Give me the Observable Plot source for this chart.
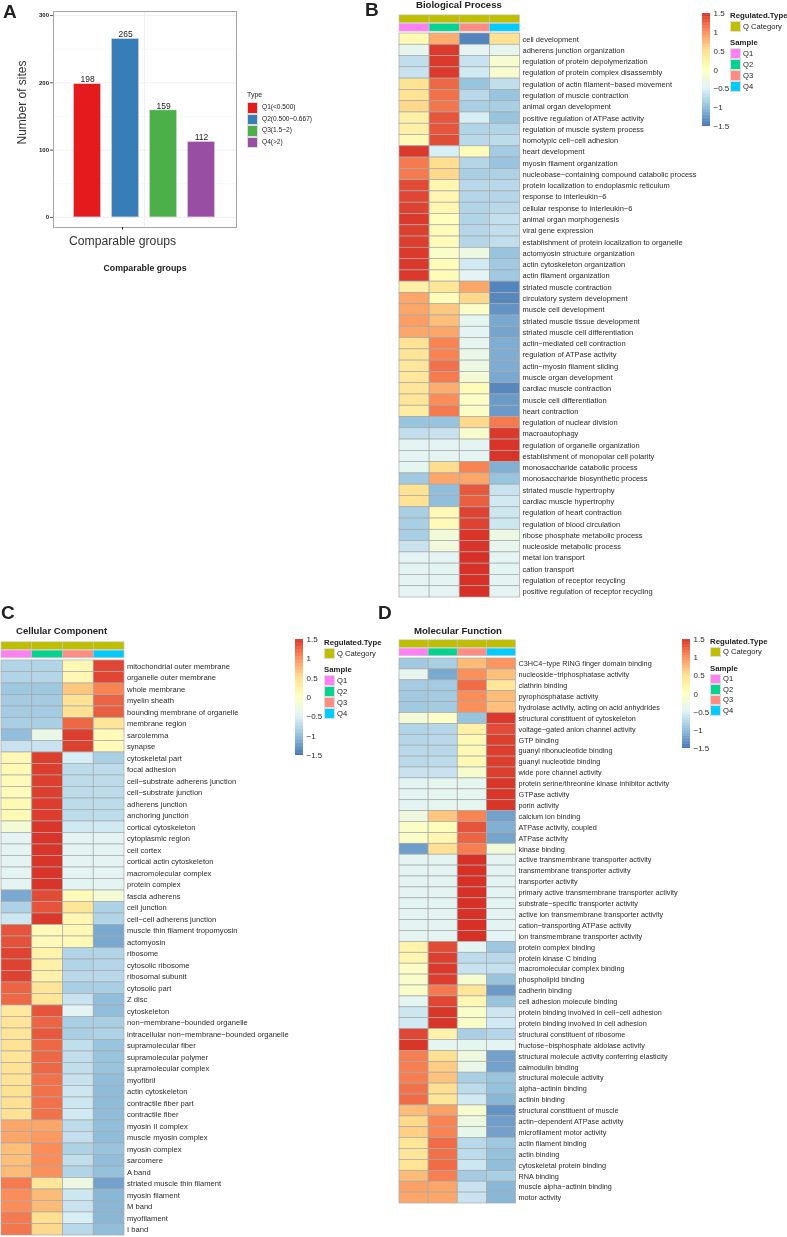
<!DOCTYPE html>
<html>
<head>
<meta charset="utf-8">
<script src="https://cdn.jsdelivr.net/npm/d3@7"></script>
<script src="https://cdn.jsdelivr.net/npm/@observablehq/plot@0.6"></script>
<style>
html,body{margin:0;padding:0;background:#fff}
#page{position:relative;width:787px;height:1237px;overflow:hidden;font-family:"Liberation Sans",Arial,sans-serif;color:#222;filter:blur(0.3px)}
#page svg{position:absolute;background:transparent;font-family:"Liberation Sans",Arial,sans-serif;overflow:visible}
.t{position:absolute;white-space:nowrap;line-height:1}
.s{position:absolute}
</style>
</head>
<body>
<div id="page"></div>
<script>
// ---------- Panel A data ----------
const siteTypes = ["Q1(<0.500)", "Q2(0.500~0.667)", "Q3(1.5~2)", "Q4(>2)"];
const siteCounts = [198, 265, 159, 112];
const siteColors = ["#e41a1c", "#377eb8", "#4daf4a", "#984ea3"];

// ---------- Heatmap shared ----------
const samples = ["Q1", "Q2", "Q3", "Q4"];
const sampleColors = ["#ff80f5", "#00d48f", "#ff8c82", "#00ccff"];
const categoryColor = "#bfbf00";
const colorStops = [-1.5, -1, -0.5, 0, 0.5, 1, 1.5];
const colorRange = ["#4575b4", "#91bfdb", "#e0f3f8", "#ffffbf", "#fee090", "#fc8d59", "#d73027"];

// ---------- Panel B: Biological Process ----------
const bpTerms = ["cell development","adherens junction organization","regulation of protein depolymerization","regulation of protein complex disassembly","regulation of actin filament−based movement","regulation of muscle contraction","animal organ development","positive regulation of ATPase activity","regulation of muscle system process","homotypic cell−cell adhesion","heart development","myosin filament organization","nucleobase−containing compound catabolic process","protein localization to endoplasmic reticulum","response to interleukin−6","cellular response to interleukin−6","animal organ morphogenesis","viral gene expression","establishment of protein localization to organelle","actomyosin structure organization","actin cytoskeleton organization","actin filament organization","striated muscle contraction","circulatory system development","muscle cell development","striated muscle tissue development","striated muscle cell differentiation","actin−mediated cell contraction","regulation of ATPase activity","actin−myosin filament sliding","muscle organ development","cardiac muscle contraction","muscle cell differentiation","heart contraction","regulation of nuclear division","macroautophagy","regulation of organelle organization","establishment of monopolar cell polarity","monosaccharide catabolic process","monosaccharide biosynthetic process","striated muscle hypertrophy","cardiac muscle hypertrophy","regulation of heart contraction","regulation of blood circulation","ribose phosphate metabolic process","nucleoside metabolic process","metal ion transport","cation transport","regulation of receptor recycling","positive regulation of receptor recycling"];
const bpValues = [
[.1,.8,-1.4,.45],[-.4,1.45,-.45,-.4],[-.7,1.45,-.65,-.15],[-.65,1.45,-.6,-.15],[.45,1.2,-.95,-.7],[.45,1.15,-.75,-.95],[.55,1.12,-.85,-.85],[.25,1.3,-.55,-.95],[.25,1.3,-.8,-.8],[.1,1.35,-.75,-.72],
[1.45,-.55,.05,-.88],[1.1,.5,-.78,-.95],[1.1,.55,-.85,-.82],[1.35,.15,-.75,-.75],[1.38,.15,-.78,-.78],[1.4,.15,-.8,-.75],[1.45,.02,-.8,-.68],[1.42,.05,-.78,-.7],[1.42,.08,-.78,-.7],[1.45,-.1,-.3,-.95],
[1.45,.07,-.6,-.9],[1.45,.07,-.45,-.9],[.25,.4,.85,-1.4],[.85,.05,.55,-1.38],[.85,.65,-.08,-1.3],[.9,.7,-.42,-1.15],[.85,.85,-.45,-1.18],[.45,1.05,-.4,-1.12],[.42,1.05,-.35,-1.12],[.38,1.15,-.3,-1.12],
[.38,1.1,-.2,-1.15],[.42,.8,.05,-1.38],[.42,1,-.05,-1.25],[.3,1.1,-.08,-1.25],[-.95,-.95,.55,1.1],[-.7,-.65,-.12,1.45],[-.45,-.45,-.45,1.48],[-.45,-.45,-.45,1.48],[-.42,.52,1.05,-1.1],[-.9,.85,.85,-.95],
[.45,-1,1.28,-.65],[.45,-1,1.25,-.6],[-.85,.1,1.4,-.62],[-.85,.08,1.4,-.62],[-.85,-.22,1.48,-.3],[-.65,-.25,1.48,-.4],[-.45,-.45,1.5,-.45],[-.45,-.45,1.5,-.45],[-.45,-.45,1.5,-.45],[-.45,-.45,1.5,-.45]];

// ---------- Panel C: Cellular Component ----------
const ccTerms = ["mitochondrial outer membrane","organelle outer membrane","whole membrane","myelin sheath","bounding membrane of organelle","membrane region","sarcolemma","synapse","cytoskeletal part","focal adhesion","cell−substrate adherens junction","cell−substrate junction","adherens junction","anchoring junction","cortical cytoskeleton","cytoplasmic region","cell cortex","cortical actin cytoskeleton","macromolecular complex","protein complex","fascia adherens","cell junction","cell−cell adherens junction","muscle thin filament tropomyosin","actomyosin","ribosome","cytosolic ribosome","ribosomal subunit","cytosolic part","Z disc","cytoskeleton","non−membrane−bounded organelle","intracellular non−membrane−bounded organelle","supramolecular fiber","supramolecular polymer","supramolecular complex","myofibril","actin cytoskeleton","contractile fiber part","contractile fiber","myosin II complex","muscle myosin complex","myosin complex","sarcomere","A band","striated muscle thin filament","myosin filament","M band","myofilament","I band"];
const ccValues = [
[-.8,-.8,.12,1.38],[-.8,-.78,.12,1.38],[-.92,-.92,.65,1.05],[-.88,-.88,.45,1.22],[-.88,-.88,.48,1.25],[-.85,-.85,1.2,.42],[-1,-.35,1.42,.08],[-.65,-.65,1.4,.08],[.12,1.42,-.55,-.85],[.1,1.42,-.72,-.72],
[.08,1.42,-.72,-.72],[.07,1.42,-.72,-.72],[.1,1.43,-.72,-.72],[.1,1.43,-.72,-.72],[-.2,1.47,-.6,-.6],[-.45,1.48,-.45,-.45],[-.45,1.48,-.45,-.45],[-.45,1.48,-.45,-.45],[-.45,1.48,-.45,-.45],[-.45,1.48,-.45,-.45],
[-1.15,1.35,.08,-.2],[-.82,1.3,.4,-.82],[-.62,1.45,.15,-.8],[1.3,.08,.12,-1.15],[1.32,.08,.1,-1.15],[1.4,.2,-.8,-.8],[1.4,.22,-.8,-.78],[1.4,.22,-.75,-.75],[1.22,.42,-.85,-.85],[1.2,.42,-.65,-1],
[.35,1.3,-.45,-1],[.42,1.22,-.85,-.85],[.42,1.28,-.85,-.82],[.45,1.2,-.7,-.95],[.42,1.2,-.7,-.95],[.45,1.2,-.7,-.95],[.45,1.15,-.65,-1],[.47,1.15,-.62,-1.02],[.47,1.15,-.62,-1.02],[.47,1.15,-.6,-1.02],
[.85,.85,-.72,-1],[.85,.92,-.68,-1.02],[.7,1,-.82,-.95],[.7,1,-.7,-1],[.72,.98,-.8,-.98],[1.1,.4,-.3,-1.2],[1,.72,-.62,-1.05],[1,.72,-.65,-1.05],[1.1,.5,-.55,-1.05],[1.12,.55,-.75,-1]];

// ---------- Panel D: Molecular Function ----------
const mfTerms = ["C3HC4−type RING finger domain binding","nucleoside−triphosphatase activity","clathrin binding","pyrophosphatase activity","hydrolase activity, acting on acid anhydrides","structural constituent of cytoskeleton","voltage−gated anion channel activity","GTP binding","guanyl ribonucleotide binding","guanyl nucleotide binding","wide pore channel activity","protein serine/threonine kinase inhibitor activity","GTPase activity","porin activity","calcium ion binding","ATPase activity, coupled","ATPase activity","kinase binding","active transmembrane transporter activity","transmembrane transporter activity","transporter activity","primary active transmembrane transporter activity","substrate−specific transporter activity","active ion transmembrane transporter activity","cation−transporting ATPase activity","ion transmembrane transporter activity","protein complex binding","protein kinase C binding","macromolecular complex binding","phospholipid binding","cadherin binding","cell adhesion molecule binding","protein binding involved in cell−cell adhesion","protein binding involved in cell adhesion","structural constituent of ribosome","fructose−bisphosphate aldolase activity","structural molecule activity conferring elasticity","calmodulin binding","structural molecule activity","alpha−actinin binding","actinin binding","structural constituent of muscle","actin−dependent ATPase activity","microfilament motor activity","actin filament binding","actin binding","cytoskeletal protein binding","RNA binding","muscle alpha−actinin binding","motor activity"];
const mfValues = [
[-.9,-.85,.72,.95],[-.4,-1.15,.98,.7],[-.88,-.88,1.18,.38],[-.9,-.88,1,.72],[-.9,-.88,.98,.7],[-.2,-.05,-.95,1.45],[-.8,-.78,.25,1.35],[-.78,-.75,.1,1.42],[-.75,-.75,.1,1.42],[-.75,-.72,.1,1.42],
[-.65,-.65,-.12,1.42],[-.45,-.42,-.42,1.47],[-.45,-.42,-.42,1.47],[-.45,-.42,-.42,1.47],[-.28,.65,1.05,-1.2],[-.07,.03,1.3,-1.1],[-.07,.15,1.22,-1.18],[-1.22,.48,1.08,-.22],[-.45,-.45,1.5,-.45],[-.45,-.45,1.5,-.45],
[-.45,-.45,1.5,-.45],[-.45,-.45,1.5,-.45],[-.45,-.45,1.5,-.45],[-.45,-.45,1.5,-.45],[-.45,-.45,1.5,-.45],[-.45,-.45,1.5,-.45],[.2,1.35,-.45,-.92],[.15,1.42,-.72,-.75],[-.05,1.45,-.65,-.68],[-.1,1.43,-.15,-.95],
[-.08,1.1,.42,-1.25],[-.42,1.38,.12,-.95],[-.62,1.47,-.1,-.62],[-.6,1.47,-.1,-.6],[1.38,.2,-.85,-.78],[1.47,-.42,-.42,-.45],[1.08,.48,-.28,-1.2],[1.08,.62,-.35,-1.2],[1.08,.68,-.85,-.95],[1.15,.5,-.72,-.98],
[1.18,.42,-.6,-1.05],[.72,.88,-.12,-1.3],[.55,1.05,-.28,-1.22],[.6,1.05,-.38,-1.2],[.4,1.18,-.75,-.92],[.42,1.15,-.72,-.98],[.42,1.18,-.62,-1],[.72,1.08,-.88,-.85],[.88,.85,-.65,-1.05],[.85,.85,-.65,-1.05]];

// ---------- Helpers ----------
const page = document.getElementById("page");
function place(svg, left, top) { svg.style.left = left + "px"; svg.style.top = top + "px"; page.appendChild(svg); }
function text(s, x, y, size, weight) {
  const d = document.createElement("div"); d.className = "t"; d.textContent = s;
  d.style.left = x + "px"; d.style.top = (y - size / 2) + "px"; d.style.fontSize = size + "px";
  if (weight) d.style.fontWeight = weight; page.appendChild(d);
}
function swatch(x, y, w, h, c) {
  const d = document.createElement("div"); d.className = "s";
  d.style.cssText = `left:${x}px;top:${y}px;width:${w}px;height:${h}px;background:${c};box-sizing:border-box;border:0.5px solid #ddd`;
  page.appendChild(d);
}
const colorScale = {type: "linear", domain: colorStops, range: colorRange};
const fmt = d => String(d).replace("-", "−");

function heatmap(o) {
  const cells = o.terms.flatMap((term, i) => samples.map((s, j) => ({term, sample: s, value: o.values[i][j]})));
  place(Plot.plot({
    width: o.w + 210, height: o.h,
    marginLeft: 0, marginTop: 0, marginBottom: 0, marginRight: 210,
    x: {domain: samples, padding: 0, round: false, axis: null},
    y: {domain: o.terms, padding: 0, round: false, axis: null},
    color: colorScale,
    marks: [
      Plot.cell(cells, {x: "sample", y: "term", fill: "value", stroke: "#a8a8a8", strokeWidth: 0.7}),
      Plot.axisY({anchor: "right", label: null, tickSize: 0, tickPadding: o.pad, fontSize: o.labelSize, fill: "#2a2a2a"})
    ]
  }), o.x, o.y);
  // annotation strips
  const strips = samples.flatMap((s, j) => [
    {row: "Regulated.Type", sample: s, c: categoryColor},
    {row: "Sample", sample: s, c: sampleColors[j]}
  ]);
  place(Plot.plot({
    width: o.w, height: o.annH,
    margin: 0,
    x: {domain: samples, padding: 0, round: false, axis: null},
    y: {domain: ["Regulated.Type", "Sample"], padding: 0.1, round: false, axis: null},
    color: {type: "identity"},
    marks: [Plot.cell(strips, {x: "sample", y: "row", fill: "c", stroke: "#c4c4c4", strokeWidth: 0.6})]
  }), o.x, o.annY);
  text(o.title, o.titleX, o.titleY, 9.6, "bold");
  // colour bar
  const step = 0.02;
  place(Plot.plot({
    width: o.barW + 34, height: o.barH,
    marginLeft: 0, marginTop: 0, marginBottom: 0, marginRight: 34,
    x: {axis: null},
    y: {domain: [-1.5, 1.5], axis: null},
    color: colorScale,
    marks: [
      Plot.rect(d3.range(-1.5, 1.5, step), {y1: d => d, y2: d => Math.min(1.5, d + step * 1.5), fill: d => d}),
      Plot.axisY({anchor: "right", label: null, ticks: colorStops, tickFormat: fmt, tickSize: 0, tickPadding: 3, fontSize: 8, fill: "#2a2a2a"})
    ]
  }), o.barX, o.barY);
  // legends
  const L = o.legX;
  text("Regulated.Type", L, o.legY, 7.8, "bold");
  swatch(L, o.legY + 5, 11, o.sw, categoryColor);
  text("Q Category", L + 13, o.legY + 5 + o.sw / 2, 7.6);
  const sy = o.legY + 27;
  text("Sample", L, sy, 7.8, "bold");
  samples.forEach((s, j) => {
    swatch(L, sy + 5 + j * o.sw, 11, o.sw, sampleColors[j]);
    text(s, L + 13, sy + 5 + j * o.sw + o.sw / 2, 7.6);
  });
}

// ---------- Panel A ----------
const bars = siteTypes.map((type, i) => ({type, n: siteCounts[i], pos: i + 1, c: siteColors[i]}));
place(Plot.plot({
  width: 340, height: 285,
  marginLeft: 53, marginRight: 104, marginTop: 11, marginBottom: 58,
  x: {domain: [0.105, 4.92], axis: null},
  y: {domain: [-15, 306], axis: null},
  color: {type: "identity"},
  marks: [
    Plot.ruleY([50, 150, 250], {stroke: "#f2f2f2", strokeWidth: 0.6}),
    Plot.ruleY([0, 100, 200, 300], {stroke: "#ebebeb", strokeWidth: 0.8}),
    Plot.ruleX([2.5], {stroke: "#ebebeb", strokeWidth: 0.8}),
    Plot.rectY(bars, {x1: d => d.pos - 0.355, x2: d => d.pos + 0.355, y1: 0, y2: "n", fill: "c", stroke: "#d8d8e8", strokeWidth: 0.5}),
    Plot.text(bars, {x: "pos", y: "n", text: "n", dy: -4.5, fontSize: 8.5, fill: "#222"}),
    Plot.frame({stroke: "#a6a6a6", strokeWidth: 1}),
    Plot.axisY({ticks: [0, 100, 200, 300], tickSize: 3, tickPadding: 1.5, fontSize: 6, fontWeight: "bold", fill: "#222", label: null, stroke: "#555"}),
    Plot.axisX({ticks: [2.5], tickSize: 2.5, tickPadding: 6, fontSize: 12.2, fill: "#333", tickFormat: () => "Comparable groups", dx: -22, label: null}),
    Plot.text(["Comparable groups"], {frameAnchor: "bottom", dy: 43, fontSize: 8.8, fontWeight: "bold", fill: "#222"}),
    Plot.text(["Number of sites"], {frameAnchor: "left", textAnchor: "middle", rotate: -90, dx: -31, dy: -17, fontSize: 12, fill: "#333"})
  ]
}), 0, 0);
text("Type", 247, 94, 7);
siteTypes.forEach((t, i) => {
  swatch(247, 102 + i * 11.5, 11, 11.5, siteColors[i]);
  text(t, 262, 107.5 + i * 11.5, 6.6);
});

// ---------- Panels B, C, D ----------
heatmap({terms: bpTerms, values: bpValues, x: 399, y: 33, w: 120.5, h: 564, pad: 2.5, labelSize: 7.5,
  annY: 13.5, annH: 18, title: "Biological Process", titleX: 416, titleY: 5,
  barX: 702, barY: 13, barW: 8, barH: 113, legX: 730, legY: 16, sw: 11});
heatmap({terms: ccTerms, values: ccValues, x: 1, y: 660, w: 123, h: 575, pad: 2.5, labelSize: 7.6,
  annY: 640.5, annH: 17.5, title: "Cellular Component", titleX: 16, titleY: 631,
  barX: 295, barY: 639, barW: 8, barH: 116, legX: 324, legY: 643, sw: 11});
heatmap({terms: mfTerms, values: mfValues, x: 398.5, y: 658, w: 116.5, h: 545, pad: 2.5, labelSize: 7.25,
  annY: 639, annH: 17.5, title: "Molecular Function", titleX: 414, titleY: 631,
  barX: 682, barY: 639, barW: 8, barH: 109, legX: 710, legY: 642, sw: 10.4});

// ---------- Panel letters ----------
text("A", 3, 11, 19, "bold");
text("B", 365, 9, 19, "bold");
text("C", 1, 612, 19, "bold");
text("D", 378, 612, 19, "bold");
</script>
</body>
</html>
